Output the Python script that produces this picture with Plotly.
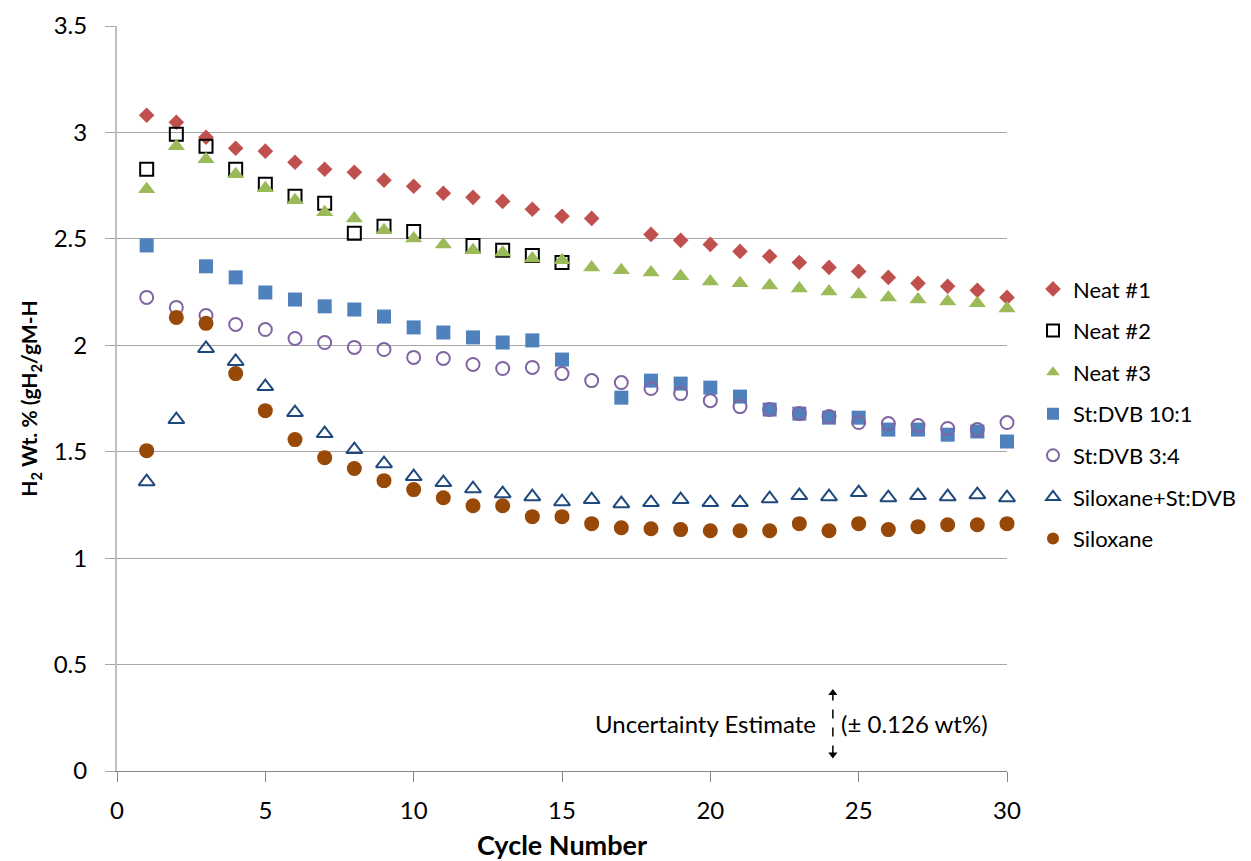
import plotly.graph_objects as go

cycles = list(range(1, 31))

neat1 = [3.081, 3.048, 2.977, 2.926, 2.912, 2.860, 2.827, 2.813, 2.775, 2.747,
         2.714, 2.695, 2.676, 2.639, 2.606, 2.596, None, 2.521, 2.493, 2.474,
         2.441, 2.418, 2.389, 2.366, 2.347, 2.319, 2.291, 2.277, 2.258, 2.225]
neat2 = [2.827, 2.992, 2.935, 2.827, 2.756, 2.700, 2.667, 2.526, 2.559, 2.535,
         None, 2.469, 2.446, 2.422, 2.389] + [None] * 15
neat3 = [2.733, 2.935, 2.874, 2.803, 2.738, 2.681, 2.625, 2.596, 2.540, 2.502,
         2.474, 2.446, 2.436, 2.408, 2.399, 2.366, 2.352, 2.342, 2.324, 2.300,
         2.291, 2.281, 2.267, 2.253, 2.239, 2.225, 2.215, 2.206, 2.197, 2.173]
stdvb_10_1 = [2.469, None, 2.371, 2.319, 2.248, 2.215, 2.183, 2.168, 2.135, 2.084,
              2.060, 2.037, 2.013, 2.023, 1.933, None, 1.754, 1.834, 1.820, 1.801,
              1.759, 1.698, 1.679, 1.660, 1.660, 1.604, 1.604, 1.580, 1.595, 1.548]
stdvb_3_4 = [2.225, 2.178, 2.140, 2.098, 2.074, 2.032, 2.013, 1.990, 1.980, 1.943,
             1.938, 1.910, 1.891, 1.896, 1.867, 1.834, 1.825, 1.797, 1.773, 1.740,
             1.712, 1.698, 1.679, 1.665, 1.637, 1.632, 1.623, 1.609, 1.604, 1.637]
silox_stdvb = [1.359, 1.651, 1.985, 1.924, 1.806, 1.684, 1.585, 1.510, 1.444, 1.383,
               1.355, 1.326, 1.303, 1.289, 1.265, 1.275, 1.256, 1.261, 1.275, 1.261,
               1.261, 1.279, 1.294, 1.289, 1.308, 1.284, 1.294, 1.289, 1.298, 1.284]
siloxane = [1.505, 2.131, 2.103, 1.867, 1.693, 1.557, 1.472, 1.421, 1.364, 1.322,
            1.284, 1.246, 1.246, 1.195, 1.195, 1.162, 1.143, 1.138, 1.134, 1.129,
            1.129, 1.129, 1.162, 1.129, 1.162, 1.134, 1.148, 1.157, 1.157, 1.162]

x_ticks = [0, 5, 10, 15, 20, 25, 30]
y_ticks = [0, 0.5, 1, 1.5, 2, 2.5, 3, 3.5]

# uncertainty indicator (annotation, display only)
unc_x = 24.13
unc_center = 0.222
unc_half = 0.145

FONT = "Lato"

series = [
    ("Neat #1", neat1, dict(symbol="diamond", size=12, color="#C0504D")),
    ("Neat #2", neat2, dict(symbol="square-open", size=13, color="#000000", line=dict(width=2, color="#000000"))),
    ("Neat #3", neat3, dict(symbol="triangle-up", size=15, color="#9BBB59")),
    ("St:DVB 10:1", stdvb_10_1, dict(symbol="square", size=14, color="#4F81BD")),
    ("St:DVB 3:4", stdvb_3_4, dict(symbol="circle-open", size=13, color="#8064A2", line=dict(width=2, color="#8064A2"))),
    ("Siloxane+St:DVB", silox_stdvb, dict(symbol="triangle-up-open", size=14, color="#1F497D", line=dict(width=2, color="#1F497D"))),
    ("Siloxane", siloxane, dict(symbol="circle", size=15, color="#984807")),
]

fig = go.Figure()
for i, (name, vals, mk) in enumerate(series):
    fig.add_trace(go.Scatter(
        x=cycles, y=vals, mode="markers", name=name, marker=mk,
        cliponaxis=False, legendgroup=f"g{i}",
    ))

# uncertainty arrow heads
fig.add_trace(go.Scatter(
    x=[unc_x, unc_x], y=[unc_center + unc_half, unc_center - unc_half],
    mode="markers", showlegend=False, hoverinfo="skip", cliponaxis=False,
    marker=dict(symbol=["triangle-up", "triangle-down"], size=8, color="#000000"),
))
fig.add_shape(type="line", xref="x", yref="y",
              x0=unc_x, x1=unc_x, y0=unc_center - unc_half, y1=unc_center + unc_half,
              line=dict(color="#000000", width=1.5, dash="dash"))
fig.add_annotation(x=unc_x - 0.5, y=unc_center, xref="x", yref="y",
                   text="Uncertainty Estimate", showarrow=False, xanchor="right",
                   font=dict(family=FONT, size=24, color="#000000"))
fig.add_annotation(x=unc_x + 0.22, y=unc_center, xref="x", yref="y",
                   text="(± 0.126 wt%)", showarrow=False, xanchor="left",
                   font=dict(family=FONT, size=24, color="#000000"))

fig.update_layout(
    width=1243, height=853,
    margin=dict(l=109, r=244, t=18, b=90, autoexpand=False),
    paper_bgcolor="white", plot_bgcolor="white",
    font=dict(family=FONT, size=22, color="#000000"),
    showlegend=True,
    legend=dict(x=1.0292, y=0.675, xanchor="left", yanchor="top",
                font=dict(family=FONT, size=22, color="#000000"),
                tracegroupgap=10, traceorder="grouped", itemsizing="constant",
                bgcolor="rgba(0,0,0,0)"),
    xaxis=dict(range=[0, 30], tickvals=x_ticks, showgrid=False, zeroline=False,
               showline=True, linecolor="#868686", linewidth=1,
               ticks="outside", ticklen=10, tickcolor="#868686",
               ticklabelstandoff=8, automargin=False,
               tickfont=dict(family=FONT, size=24),
               title=dict(text="<b>Cycle Number</b>", font=dict(family=FONT, size=27), standoff=20)),
    yaxis=dict(range=[0, 3.5], tickvals=y_ticks, showgrid=True, gridcolor="#A6A6A6", gridwidth=1,
               zeroline=False, showline=True, linecolor="#BFBFBF", linewidth=2,
               ticks="outside", ticklen=10, tickcolor="#A6A6A6",
               ticklabelstandoff=13, automargin=False,
               tickfont=dict(family=FONT, size=24),
               title=dict(text="<b>H<sub>2</sub> Wt. % (gH<sub>2</sub>/gM-H</b>",
                          font=dict(family=FONT, size=21), standoff=10)),
)

fig.write_html("out.html")
